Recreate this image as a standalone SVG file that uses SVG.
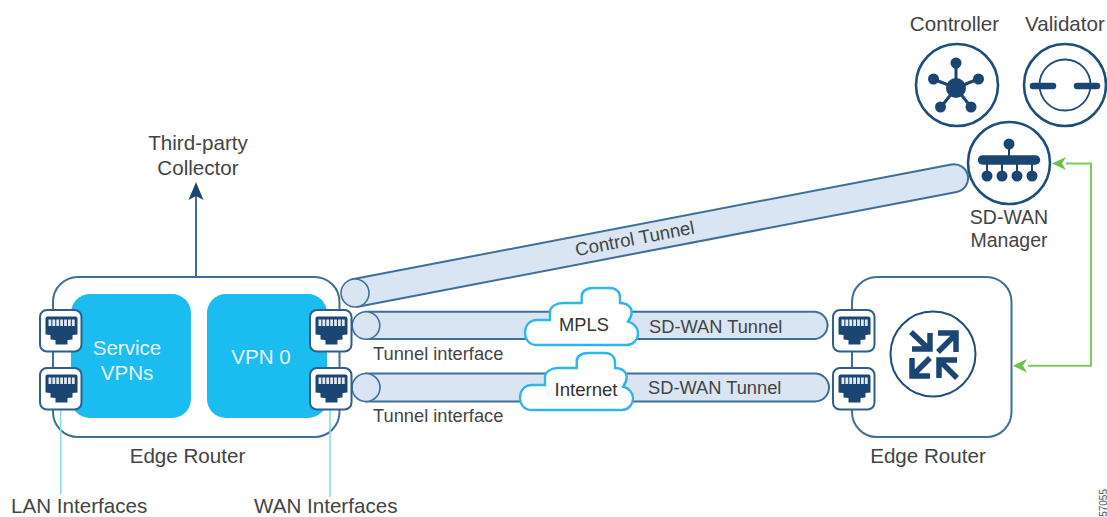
<svg xmlns="http://www.w3.org/2000/svg" width="1107" height="517" viewBox="0 0 1107 517">
<style>
text{font-family:"Liberation Sans",Arial,sans-serif;fill:#444}
.t20{font-size:20.6px}
.t18{font-size:18.300px}
.m{text-anchor:middle}
.w{fill:#e6f6fd}
.box{fill:#fff;stroke:#3f6f99;stroke-width:2}
.vpn{fill:#1bbcef}
.tun{fill:#d9e5f3;stroke:#3f6f99;stroke-width:2}
.cap{fill:#d9e5f3;stroke:#3f6f99;stroke-width:1.6}
.ring{fill:#fff;stroke:#1f4e7c;stroke-width:2.600}
.dark{fill:#1b4674}
.ln{stroke:#1b4674;fill:none}
.green{stroke:#7acb5c;stroke-width:2;fill:none}
.cyan{stroke:#8adcf5;stroke-width:1.6;fill:none}
.cloud{fill:#fff;stroke:#2fb6e9;stroke-width:2.400}
</style>
<defs>
<g id="port">
<rect x="1" y="1" width="41.500" height="41.500" rx="7" fill="#fff" stroke="#2f5f8a" stroke-width="2"/>
<path d="M8.500 7.500H36.500Q38.500 7.500 38.500 9.500V25.500L33.500 26V30.500L28.500 31V35.500H16.500V31L11.500 30.500V26L6.500 25.500V9.500Q6.500 7.500 8.500 7.500Z" fill="#1b4674"/>
<path d="M9.500 10.500h2.800v6.500h-2.800zM13.400 10.500h2.800v6.500h-2.800zM17.300 10.500h2.800v6.500h-2.800zM21.200 10.500h2.800v6.500h-2.800zM25.100 10.500h2.800v6.500h-2.800zM29 10.500h2.800v6.500h-2.800zM32.900 10.500h2.800v6.500h-2.800z" fill="#dfe8f1"/>
</g>
<path id="cl" d="M11.700 57C3 57 0 50 0 45C0 37 5 32 12 32H25V24C25 19 31 15 38 15H56.700V8C56.700 3 62 0 68 0H85C91 0 95 4 95 9V15C102 15 106.700 19 106.700 24C106.700 28 105 31 103 33.700C109 35 113 40 113 45C113 52 108 57 101.700 57Z"/>
</defs>

<g id="router-left">
<rect class="box" x="53" y="277" width="286.500" height="160" rx="25"/>
<rect class="vpn" x="71" y="294" width="120" height="124" rx="19"/>
<rect class="vpn" x="207" y="294" width="120" height="124" rx="19"/>
<text class="t20 m w" x="127" y="355">Service</text>
<text class="t20 m w" x="127" y="380">VPNs</text>
<text class="t20 m w" x="261" y="364">VPN 0</text>
<text class="t20 m" x="187.500" y="463">Edge Router</text>
</g>

<g id="connectors">
<path class="cyan" d="M60.700 410V494M330 410V497"/>
<path d="M196 277V195" stroke="#3f6f99" stroke-width="2" fill="none"/>
<path d="M196 182L203.500 200L196 196L188.500 200Z" fill="#1b4674"/>
<path class="green" d="M1066 163.500H1091V365.700H1028"/>
<path d="M1052 163.500L1066 157L1062 163.500L1066 170Z" fill="#6cc24a"/>
<path d="M1013 365.700L1027 359L1023 365.700L1027 372.500Z" fill="#6cc24a"/>
<g id="control-tunnel" transform="translate(355 293) rotate(-10.850)">
<path class="tun" d="M0 -14H610A14 14 0 0 1 610 14H0Z"/>
<circle class="cap" r="14"/>
<text class="t18 m" x="285" y="5.500" style="font-size:18.600px">Control Tunnel</text>
</g>
<g id="tunnel-mpls">
<path class="tun" d="M366 311.700H815A13.700 13.700 0 0 1 815 339H366Z"/>
<circle class="cap" cx="366" cy="325.500" r="13.800"/>
</g>
<g id="tunnel-internet">
<path class="tun" d="M366 373.500H815A14 14 0 0 1 815 401.500H366Z"/>
<circle class="cap" cx="366" cy="387.500" r="14"/>
</g>
<text class="t18" x="649" y="333">SD-WAN Tunnel</text>
<text class="t18" x="648" y="394">SD-WAN Tunnel</text>
<text class="t18" x="373" y="360">Tunnel interface</text>
<text class="t18" x="373" y="422">Tunnel interface</text>
</g>

<g id="ports-left">
<use href="#port" x="39" y="309"/><use href="#port" x="39" y="367"/>
<use href="#port" x="309" y="309"/><use href="#port" x="309" y="367"/>
</g>

<g id="cloud-mpls">
<use href="#cl" class="cloud" x="525" y="288"/>
<text class="t18 m" x="584" y="331" style="fill:#333">MPLS</text>
</g>
<g id="cloud-internet">
<use href="#cl" class="cloud" x="520" y="353"/>
<text class="t18 m" x="586" y="396" style="fill:#333;font-size:18.600px">Internet</text>
</g>

<g id="router-right">
<rect class="box" x="852" y="277" width="159.500" height="160" rx="25"/>
<use href="#port" x="832" y="309"/><use href="#port" x="832" y="367"/>
<circle cx="933" cy="354" r="42.500" fill="#fff" stroke="#1f4e7c" stroke-width="2"/>
<g stroke="#1b4674" stroke-width="5.500" fill="none">
<path d="M911 332L930 350M930 333V349H912"/>
<path d="M938 352L956 334M938 333H956V352"/>
<path d="M930 358L912 376M912 358V376H930"/>
<path d="M957 378L939 360M939 378V360H957"/>
</g>
<text class="t20 m" x="928" y="463">Edge Router</text>
</g>

<g id="controller">
<circle class="ring" cx="957" cy="85" r="41"/>
<path class="ln" stroke-width="3" d="M956 88L956 63M956 88L978 79M956 88L933 79M956 88L941 107M956 88L971 107"/>
<circle class="dark" cx="956" cy="88" r="10"/>
<circle class="dark" cx="956" cy="63" r="5.500"/>
<circle class="dark" cx="978.500" cy="79" r="5.500"/>
<circle class="dark" cx="933.500" cy="79" r="5.500"/>
<circle class="dark" cx="940.500" cy="107" r="5.500"/>
<circle class="dark" cx="971" cy="107" r="5.500"/>
<text class="t20 m" x="954.500" y="31">Controller</text>
</g>

<g id="validator">
<circle class="ring" cx="1065" cy="85" r="41"/>
<circle cx="1065" cy="85" r="25.500" fill="none" stroke="#1f4e7c" stroke-width="1.800"/>
<path class="ln" stroke-width="6.500" stroke-linecap="round" d="M1033 86H1053M1077 86H1097"/>
<text class="t20 m" x="1065" y="31">Validator</text>
</g>

<g id="manager">
<circle class="ring" cx="1009" cy="163" r="41"/>
<path class="ln" stroke-width="2" d="M1009 144V160M987 160V176M1002 160V176M1017 160V176M1032 160V176"/>
<path class="ln" stroke-width="9.500" stroke-linecap="round" d="M982.500 160H1035.500"/>
<circle class="dark" cx="1009" cy="144" r="5.500"/>
<circle class="dark" cx="987" cy="176" r="5.500"/>
<circle class="dark" cx="1002" cy="176" r="5.500"/>
<circle class="dark" cx="1017" cy="176" r="5.500"/>
<circle class="dark" cx="1032" cy="176" r="5.500"/>
<text class="m" style="font-size:19.500px"><tspan x="1009" y="224">SD-WAN</tspan><tspan x="1009" y="246.500">Manager</tspan></text>
</g>

<g id="collector">
<text class="t20 m" x="198" y="150">Third-party</text>
<text class="t20 m" x="198" y="175">Collector</text>
</g>
<text class="t20" x="11" y="512.500">LAN Interfaces</text>
<text class="t20" x="254" y="512.500">WAN Interfaces</text>
<text x="1107" y="489" text-anchor="end" transform="rotate(-90 1107 489)" style="font-size:10px;fill:#555">57055</text>
</svg>
